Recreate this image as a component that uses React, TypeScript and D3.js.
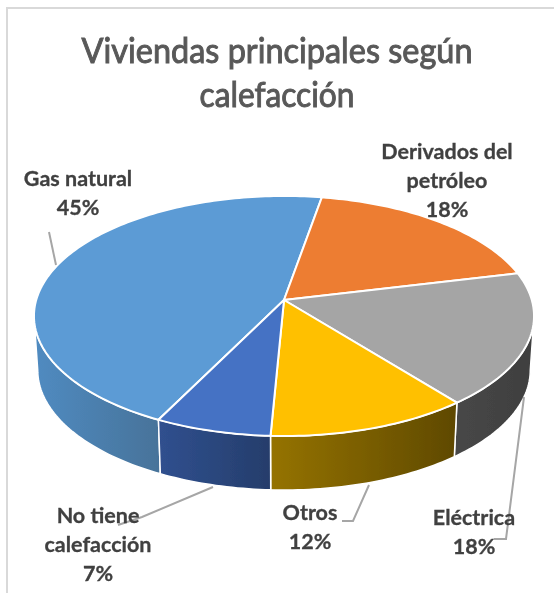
import React from "react";
import * as d3 from "d3";

const titleLines = ["Viviendas principales según", "calefacción"];
const titleWidths = [391, 155];
const categories = ["Gas natural", "Derivados del petróleo", "Eléctrica", "Otros", "No tiene calefacción"];
const values = [45.4, 18.49, 18, 11.5, 6.61];
const colors = ["#5b9bd5", "#ed7d31", "#a5a5a5", "#ffc000", "#4472c4"];
const wallFrom = ["#508bc1", "#ed7d31", "#474747", "#957300", "#30508f"];
const wallTo = ["#47739a", "#ed7d31", "#3f3f3f", "#5f4900", "#253d6b"];
const labelLines = [["Gas natural"], ["Derivados del", "petróleo"], ["Eléctrica"], ["Otros"], ["No tiene", "calefacción"]];
const labelPos = [
  { x: 78, y: 186 },
  { x: 447, y: 159 },
  { x: 474, y: 525 },
  { x: 310, y: 520 },
  { x: 98, y: 523 },
];
const leaders: [number, number][][] = [
  [[49, 232], [56, 265]],
  [],
  [[524, 397], [506, 539], [494, 539]],
  [[369, 485], [353, 521], [342, 521]],
  [[213, 487], [142, 517], [118, 525]],
];

const W = 554, H = 593;
const cx = 284, cy = 300, depth = 54, bottomScale = 0.985;
const k = 0.1333, a = 117.9, b = 247.8;
const startDeg = 206.5;
const TAU = 2 * Math.PI;

const project = (t: number, dy = 0): [number, number] => {
  const u = Math.sin(t), v = -Math.cos(t), d = 1 - k * v;
  const x = (b * u) / d;
  return [cx + (dy ? x * bottomScale : x), cy + (a * v) / d + dy];
};

const pieGen = d3.pie<number>().sort(null)
  .startAngle((startDeg * Math.PI) / 180)
  .endAngle((startDeg * Math.PI) / 180 + TAU);
const arcs = pieGen(values);
const line = d3.line();

const arcPoints = (t0: number, t1: number, dy = 0) => {
  const n = Math.max(2, Math.ceil((t1 - t0) / 0.02));
  return d3.range(n + 1).map((i) => project(t0 + ((t1 - t0) * i) / n, dy));
};

const tR = Math.acos(-k);
const tL = TAU - tR;
const center: [number, number] = [cx, cy];

const wallRange = (s: { startAngle: number; endAngle: number }): [number, number] | null => {
  const off = s.startAngle >= TAU ? TAU : 0;
  const t0 = Math.max(s.startAngle - off, tR), t1 = Math.min(s.endAngle - off, tL);
  return t1 > t0 ? [t0, t1] : null;
};

export default function App() {
  return (
    <svg width={W} height={H} style={{ position: "absolute", left: 0, top: 0, background: "#fff" }}
      fontFamily="Lato, 'Open Sans', sans-serif">
      <defs>
        <filter id="soft" x="-5%" y="-5%" width="110%" height="110%">
          <feGaussianBlur stdDeviation="0.45" />
        </filter>
        {arcs.map((s, i) => {
          const r = wallRange(s);
          if (!r) return null;
          const xs = arcPoints(r[0], r[1]).map((p) => p[0]);
          return (
            <linearGradient key={i} id={`wall${i}`} gradientUnits="userSpaceOnUse"
              x1={d3.min(xs)} x2={d3.max(xs)} y1={0} y2={0}>
              <stop offset="0" stopColor={wallFrom[i]} />
              <stop offset="1" stopColor={wallTo[i]} />
            </linearGradient>
          );
        })}
      </defs>
      <rect x={7} y={8} width={W} height={H} fill="#fff" stroke="#d9d9d9" strokeWidth={2} />
      <g filter="url(#soft)">
        {arcs.map((s, i) => {
          const r = wallRange(s);
          if (!r) return null;
          const top = arcPoints(r[0], r[1]);
          const bottom = arcPoints(r[0], r[1], depth).reverse();
          return <path key={i} d={line([...top, ...bottom])! + "Z"} fill={`url(#wall${i})`} stroke="#fff" strokeWidth={1.5} strokeLinejoin="round" />;
        })}
        {arcs.map((s, i) => {
          const pts = arcPoints(s.startAngle, s.endAngle);
          return <path key={i} d={line([center, ...pts])! + "Z"} fill={colors[i]} stroke="#fff" strokeWidth={2} strokeLinejoin="round" />;
        })}
        {leaders.map((l, i) => l.length > 0 && (
          <path key={i} d={line(l)!} fill="none" stroke="#a6a6a6" strokeWidth={2} />
        ))}
        <g textAnchor="middle" fill="#595959" stroke="#595959" strokeWidth={1} fontSize={35} fontWeight={400}>
          {titleLines.map((t, i) => (
            <text key={i} x={277} y={63 + i * 44} textLength={titleWidths[i]} lengthAdjust="spacingAndGlyphs">{t}</text>
          ))}
        </g>
        <g textAnchor="middle" fill="#404040" stroke="#404040" strokeWidth={0.3} fontSize={21.5} fontWeight={700}>
          {categories.map((c, i) => {
            const lines = labelLines[i];
            return (
              <text key={c}>
                {lines.map((t, j) => (
                  <tspan key={j} x={labelPos[i].x} y={labelPos[i].y + j * 29}>{t}</tspan>
                ))}
                <tspan x={labelPos[i].x} y={labelPos[i].y + lines.length * 29}>{Math.round(values[i])}%</tspan>
              </text>
            );
          })}
        </g>
      </g>
    </svg>
  );
}
